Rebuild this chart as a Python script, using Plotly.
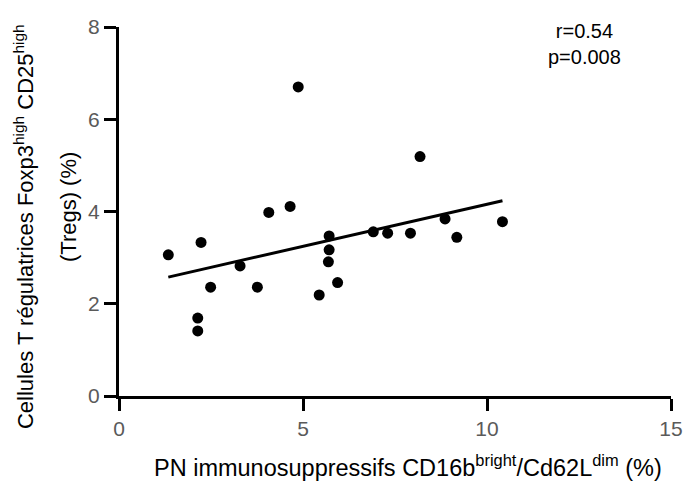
import numpy as np
import plotly.graph_objects as go

# PN immunosuppressifs CD16b bright / CD62L dim (%)
pn_pct = [1.34, 2.23, 2.49, 2.14, 2.14, 3.29, 3.76, 4.07, 4.65, 4.87, 5.71,
          5.71, 5.69, 5.44, 5.94, 6.91, 7.30, 7.92, 8.18, 8.86, 9.18, 10.42]
# Tregs (%)
treg_pct = [3.06, 3.33, 2.36, 1.69, 1.41, 2.82, 2.36, 3.98, 4.11, 6.70, 3.47,
            3.17, 2.91, 2.19, 2.46, 3.56, 3.53, 3.53, 5.19, 3.84, 3.44, 3.78]

x_ticks = [0, 5, 10, 15]
y_ticks = [0, 2, 4, 6, 8]
stats_text = "r=0.54<br>p=0.008"

# droite de regression lineaire
slope, intercept = np.polyfit(pn_pct, treg_pct, 1)
x_fit = np.array([min(pn_pct), max(pn_pct)])
y_fit = slope * x_fit + intercept

FONT = "Liberation Sans, Arial, sans-serif"

fig = go.Figure()
fig.add_trace(go.Scatter(
    x=x_fit, y=y_fit,
    mode="lines",
    line=dict(color="black", width=3),
    hoverinfo="skip",
))
fig.add_trace(go.Scatter(
    x=pn_pct, y=treg_pct,
    mode="markers",
    marker=dict(color="black", size=11),
))

axis_style = dict(
    showline=True, linecolor="black", linewidth=3,
    ticks="outside", tickcolor="black", tickwidth=3, ticklen=12,
    showgrid=False, zeroline=False, automargin=False,
    tickfont=dict(family=FONT, size=21, color="#5a5a5a"),
)

fig.update_layout(
    width=685, height=488,
    margin=dict(l=119, r=14, t=27, b=92),
    plot_bgcolor="white", paper_bgcolor="white",
    showlegend=False,
    font=dict(family=FONT, color="black"),
    xaxis=dict(range=[0, 15], tickvals=x_ticks, **axis_style),
    yaxis=dict(range=[0, 8], tickvals=y_ticks, **axis_style),
)

# titres des axes
fig.add_annotation(
    text="PN immunosuppressifs CD16b<sup>bright</sup>/Cd62L<sup>dim</sup> (%)",
    xref="paper", yref="paper", x=0.524, y=-0.19,
    xanchor="center", yanchor="middle",
    showarrow=False, font=dict(size=23.5),
)
fig.add_annotation(
    text="Cellules T régulatrices Foxp3<sup>high</sup> CD25<sup>high</sup>",
    xref="paper", yref="paper", x=-0.172, y=0.458,
    xanchor="center", yanchor="middle", textangle=-90,
    showarrow=False, font=dict(size=22),
)
fig.add_annotation(
    text="(Tregs) (%)",
    xref="paper", yref="paper", x=-0.0924, y=0.512,
    xanchor="center", yanchor="middle", textangle=-90,
    showarrow=False, font=dict(size=22),
)
fig.add_annotation(
    text=stats_text,
    xref="x", yref="y", x=12.66, y=7.64,
    xanchor="center", yanchor="middle",
    showarrow=False, font=dict(size=20),
)

# enlever la marge par defaut du body pour que la figure remplisse la fenetre
fig.write_html("out.html", config={"displayModeBar": False},
               post_script="document.body.style.margin='0';")
